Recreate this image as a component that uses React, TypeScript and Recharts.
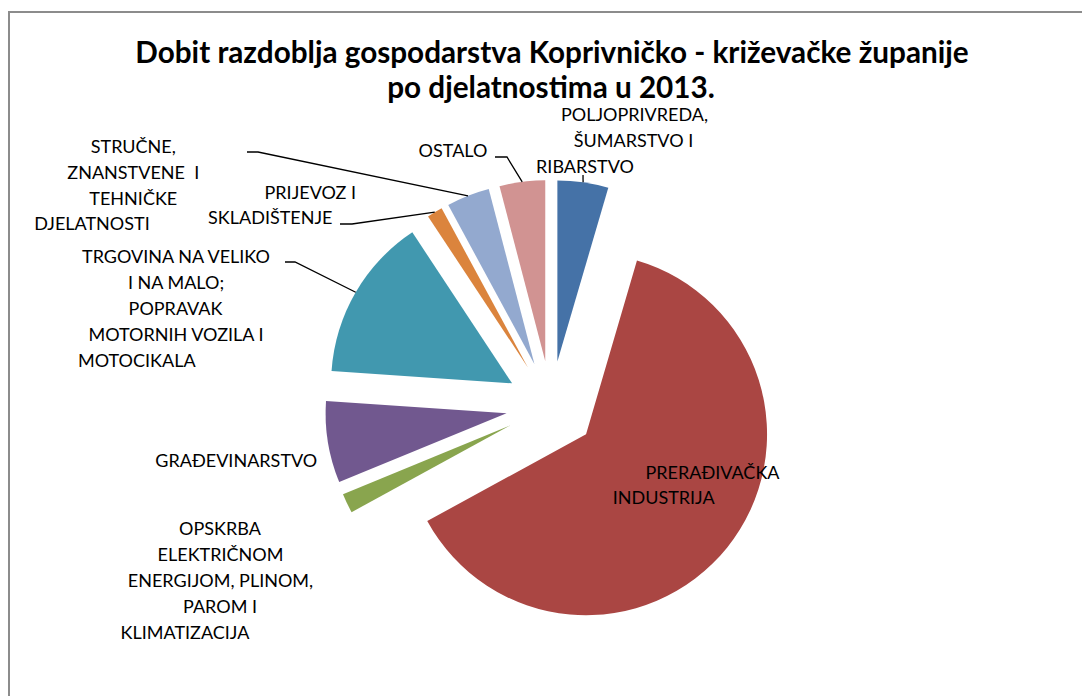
import React from 'react';
import { PieChart, Pie, Cell, Sector } from 'recharts';

// ---- data ----
const categories = [
  'POLJOPRIVREDA, ŠUMARSTVO I RIBARSTVO',
  'PRERAĐIVAČKA INDUSTRIJA',
  'OPSKRBA ELEKTRIČNOM ENERGIJOM, PLINOM, PAROM I KLIMATIZACIJA',
  'GRAĐEVINARSTVO',
  'TRGOVINA NA VELIKO I NA MALO; POPRAVAK MOTORNIH VOZILA I MOTOCIKALA',
  'PRIJEVOZ I SKLADIŠTENJE',
  'STRUČNE, ZNANSTVENE I TEHNIČKE DJELATNOSTI',
  'OSTALO',
];
const values = [45.3, 624, 17.5, 72.8, 146, 13.9, 38.3, 40.6];
const colors = ['#4572A7', '#AA4643', '#89A54E', '#71588F', '#4198AF', '#DB843D', '#93A9CF', '#D19392'];
const labelLines = [
  ['POLJOPRIVREDA,', 'ŠUMARSTVO I', 'RIBARSTVO'],
  ['PRERAĐIVAČKA', 'INDUSTRIJA'],
  ['OPSKRBA', 'ELEKTRIČNOM', 'ENERGIJOM, PLINOM,', 'PAROM I', 'KLIMATIZACIJA'],
  ['GRAĐEVINARSTVO'],
  ['TRGOVINA NA VELIKO', 'I NA MALO;', 'POPRAVAK', 'MOTORNIH VOZILA I', 'MOTOCIKALA'],
  ['PRIJEVOZ I', 'SKLADIŠTENJE'],
  ['STRUČNE,', 'ZNANSTVENE  I', 'TEHNIČKE', 'DJELATNOSTI'],
  ['OSTALO'],
];
const titleLines = ['Dobit razdoblja gospodarstva Koprivničko - križevačke županije', 'po djelatnostima u 2013.'];

// ---- layout (label placement, like Excel's best-fit) ----
const labelLayout: { x: number; y: number }[][] = [
  [{ x: 634.5, y: 121 }, { x: 633.5, y: 147 }, { x: 585, y: 172.5 }],
  [{ x: 712.5, y: 479 }, { x: 663.7, y: 504 }],
  [{ x: 220, y: 535 }, { x: 220.5, y: 561 }, { x: 220.5, y: 587 }, { x: 220, y: 613 }, { x: 185, y: 638.5 }],
  [{ x: 236.3, y: 466.5 }],
  [{ x: 176, y: 263.3 }, { x: 176, y: 288.8 }, { x: 175.5, y: 314.5 }, { x: 176, y: 340.5 }, { x: 136.8, y: 366.5 }],
  [{ x: 310.3, y: 198.5 }, { x: 270.3, y: 224 }],
  [{ x: 133.3, y: 153 }, { x: 133.3, y: 178.5 }, { x: 133.3, y: 204.5 }, { x: 92, y: 230 }],
  [{ x: 453, y: 157 }],
];
// leader line start (near the label) and elbow; null = no leader
const leaderLayout: (number[] | null)[] = [
  [583, 175, 583, 175],
  null,
  null,
  null,
  [285, 262, 295, 262],
  [340, 224, 352, 224],
  [247, 152, 258, 152],
  [495, 157, 507, 157],
];

const data = categories.map((name, i) => ({ name, value: values[i] }));

const EXPLODE = 45;
const RAD = Math.PI / 180;
const FONT = 'Lato, "Open Sans", sans-serif';

const ExplodedSector = (props: any) => {
  const { cx, cy, midAngle } = props;
  const dx = EXPLODE * Math.cos(-midAngle * RAD);
  const dy = EXPLODE * Math.sin(-midAngle * RAD);
  return <Sector {...props} cx={cx + dx} cy={cy + dy} />;
};

const renderLabel = (props: any) => {
  const { cx, cy, midAngle, outerRadius, index } = props;
  const lines = labelLines[index];
  const pos = labelLayout[index];
  const leader = leaderLayout[index];
  const ex = cx + (EXPLODE + outerRadius) * Math.cos(-midAngle * RAD);
  const ey = cy + (EXPLODE + outerRadius) * Math.sin(-midAngle * RAD);
  return (
    <g key={`lbl-${index}`}>
      {leader && (
        <polyline
          points={`${leader[0]},${leader[1]} ${leader[2]},${leader[3]} ${ex},${ey}`}
          fill="none"
          stroke="#000"
          strokeWidth={1.3}
        />
      )}
      {lines.map((t, j) => (
        <text
          key={j}
          x={pos[j].x}
          y={pos[j].y}
          textAnchor="middle"
          fontFamily={FONT}
          fontSize={18}
          fill="#000"
          style={{ whiteSpace: 'pre' }}
        >
          {t}
        </text>
      ))}
    </g>
  );
};

export default function App() {
  return (
    <div style={{ position: 'absolute', left: 0, top: 0, width: 1082, height: 696, background: '#fff' }}>
      <svg width={1082} height={696} style={{ position: 'absolute', left: 0, top: 0 }}>
        <rect x={9} y={12} width={1200} height={800} fill="#fff" stroke="#8c8c8c" strokeWidth={2} />
        <text x={552} y={63} textAnchor="middle" fontFamily={FONT} fontWeight="bold" fontSize={29.7} fill="#000">
          {titleLines[0]}
        </text>
        <text x={551} y={97.5} textAnchor="middle" fontFamily={FONT} fontWeight="bold" fontSize={29.7} fill="#000">
          {titleLines[1]}
        </text>
      </svg>
      <div style={{ position: 'absolute', left: 0, top: 0 }}>
        <PieChart width={1082} height={696} margin={{ top: 0, right: 0, bottom: 0, left: 0 }}>
          <Pie
            data={data}
            dataKey="value"
            nameKey="name"
            cx={551}
            cy={406}
            outerRadius={181}
            startAngle={90}
            endAngle={-270}
            stroke="none"
            isAnimationActive={false}
            shape={ExplodedSector}
            activeShape={ExplodedSector}
            inactiveShape={ExplodedSector}
            label={renderLabel}
            labelLine={false}
          >
            {data.map((d, i) => (
              <Cell key={d.name} fill={colors[i]} />
            ))}
          </Pie>
        </PieChart>
      </div>
    </div>
  );
}
